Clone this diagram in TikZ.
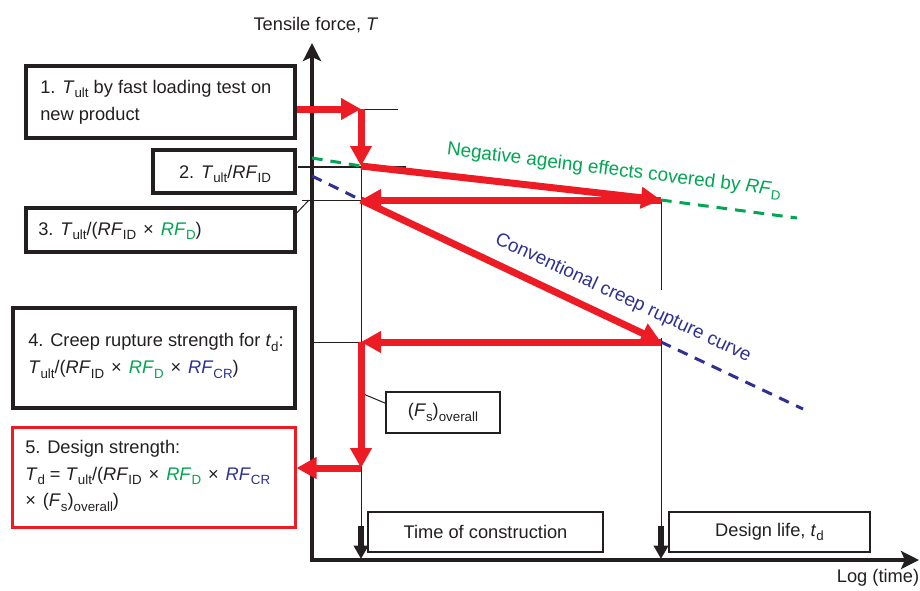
\documentclass[tikz,border=0pt]{standalone}
\usepackage{fontspec}
\setmainfont{Liberation Sans}
\usetikzlibrary{arrows.meta}
\definecolor{rred}{RGB}{237,28,36}
\definecolor{ggreen}{RGB}{0,166,81}
\definecolor{bblue}{RGB}{46,49,146}
\definecolor{kblack}{RGB}{35,31,32}
\newcommand\sbx[1]{\raisebox{-0.25em}{\fontsize{10}{12}\selectfont #1}}
\newcommand\iT{\textit{T}}
\newcommand\RF{\textit{RF}}
\newcommand\tms{\hspace{0.38em}×\hspace{0.38em}}
\begin{document}
\begin{tikzpicture}[x=0.75pt,y=-0.75pt,
  font=\fontsize{13.7}{20}\selectfont,
  box/.style={draw=kblack, line width=2.5pt, inner sep=0pt},
  redbox/.style={draw=rred, line width=2.25pt, inner sep=0pt},
  thinbox/.style={draw=kblack, line width=1.1pt, inner sep=0pt, text=kblack},
  txt/.style={anchor=west, align=left, inner sep=0pt, text=kblack},
  curvelab/.style={inner sep=0pt, font=\fontsize{14.2}{20}\selectfont},
  thinline/.style={draw=kblack, line width=0.75pt},
  redarr/.style={draw=rred, line width=5.25pt, -{Triangle[length=15pt,width=15.5pt]}},
  axisline/.style={draw=kblack, line width=3pt, line join=miter,
    {Stealth[length=13.5pt,width=13.5pt,inset=3pt]}-{Stealth[length=13.5pt,width=13.5pt,inset=3pt]}},
  tarr/.style={draw=kblack, line width=4.2pt, -{Triangle[length=10pt,width=10.5pt]}},
  gdash/.style={draw=ggreen, line width=2.25pt, dash pattern=on 8pt off 6pt},
  bdash/.style={draw=bblue, line width=2.25pt, dash pattern=on 8pt off 6pt}]
\useasboundingbox (0,0) rectangle (920,590);

% key coordinates
\coordinate (O) at (312,560);
\coordinate (ytip) at (312,43);
\coordinate (xtip) at (919,560);
\coordinate (p0) at (361,109);
\coordinate (p1) at (361,166);
\coordinate (p2) at (661,200);
\coordinate (p3) at (361,200);
\coordinate (p4) at (661,342);
\coordinate (p5) at (361,342);
\coordinate (p6) at (361,468);
\coordinate (t0) at (398,109);
\coordinate (k0) at (298,167);
\coordinate (k1) at (406,167);
\coordinate (l2) at (302,200);
\coordinate (l3) at (313,342);
\coordinate (c3) at (309,200);
\coordinate (c5) at (361,393);
\coordinate (v1) at (361,526);
\coordinate (v2) at (661,526);
\coordinate (g1) at (661,290);
\coordinate (g2) at (661,338);
\coordinate (ga) at (312,158);
\coordinate (gb) at (797,218);
\coordinate (ba) at (312,176);
\coordinate (bb) at (803,409);
\coordinate (e1) at (361,559);
\coordinate (e2) at (661,559);

% boxes
\node[box, minimum width=201.75pt, minimum height=54pt] (b1) at (160.5,102) {};
\node[box, minimum width=106.5pt, minimum height=32.25pt] (b2) at (224,171.5) {};
\node[box, minimum width=201.75pt, minimum height=33pt] (b3) at (160.5,230) {};
\node[box, minimum width=211.5pt, minimum height=75pt] (b4) at (154,358) {};
\node[redbox, minimum width=212.25pt, minimum height=75pt] (b5) at (153.5,477) {};
\node[thinbox, minimum width=85.5pt, minimum height=30.75pt] (fs) at (443,412.5) {(\textit{F}\sbx{s})\sbx{overall}};
\node[thinbox, minimum width=176.25pt, minimum height=30pt] (tc) at (485.5,532) {Time of construction};
\node[thinbox, minimum width=150.75pt, minimum height=30pt] (dl) at (769.5,532) {Design life, \textit{t}\sbx{d}};

% thin guide lines
\draw[thinline] (p0) -- (t0);
\draw[thinline] (l2) -- (p3);
\draw[thinline] (l3) -- (p5);
\draw[thinline] (p1) -- (v1);
\draw[thinline] (p2) -- (g1);
\draw[thinline] (g2) -- (v2);
\draw[thinline] ([yshift=-5pt]b3.north east) -- (c3);
\draw[thinline] (c5) -- ([yshift=7pt]fs.west);
\draw[draw=kblack, line width=2pt] (k0) -- (k1);

% axes
\draw[axisline] (ytip) -- (O) -- (xtip);
\draw[tarr] (v1) -- (e1);
\draw[tarr] (v2) -- (e2);

% dashed curves
\draw[gdash] (ga) -- (p1);
\draw[gdash] (p2) -- (gb);
\draw[bdash] (ba) -- (p3);
\draw[bdash] (p4) -- (bb);

% red path
\draw[redarr] (b1.east |- p0) -- (p0);
\draw[redarr] (p0) -- (p1);
\draw[redarr] (p1) -- (p2);
\draw[redarr] (p2) -- (p3);
\draw[redarr] (p3) -- (p4);
\draw[redarr] (p4) -- (p5);
\draw[redarr] (p5) -- (p6);
\draw[redarr] (p6) -- (b5.east |- p6);

% box texts
\node[txt] (t1) at (40,102) {1. \iT\sbx{ult} by fast loading test on\\new product};
\node[inner sep=0pt, text=kblack] (t2) at (225,174) {2. \iT\sbx{ult}/\RF\sbx{ID}};
\node[txt] (t3) at (38,231) {3. \iT\sbx{ult}/(\RF\sbx{ID}\tms{\color{ggreen}\RF\sbx{D}})};
\node[txt] (t4) at (28,356) {4. Creep rupture strength for \textit{t}\sbx{d}:\\\iT\sbx{ult}/(\RF\sbx{ID}\tms{\color{ggreen}\RF\sbx{D}}\tms{\color{bblue}\RF\sbx{CR}})};
\node[txt] (t5) at (25,476) {5. Design strength:\\\iT\sbx{d} = \iT\sbx{ult}/(\RF\sbx{ID}\tms{\color{ggreen}\RF\sbx{D}}\tms{\color{bblue}\RF\sbx{CR}}\\×\hspace{0.38em}(\textit{F}\sbx{s})\sbx{overall})};

% axis and curve labels
\node[text=kblack] (ylab) at (316,25) {Tensile force, \textit{T}};
\node[text=kblack] (xlab) at (878,578) {Log (time)};
\node[curvelab, text=ggreen, rotate=-7] (glab) at (614,171) {Negative ageing effects covered by \RF\sbx{D}};
\node[curvelab, text=bblue, rotate=-25] (blab) at (623,298) {Conventional creep rupture curve};
\end{tikzpicture}
\end{document}
